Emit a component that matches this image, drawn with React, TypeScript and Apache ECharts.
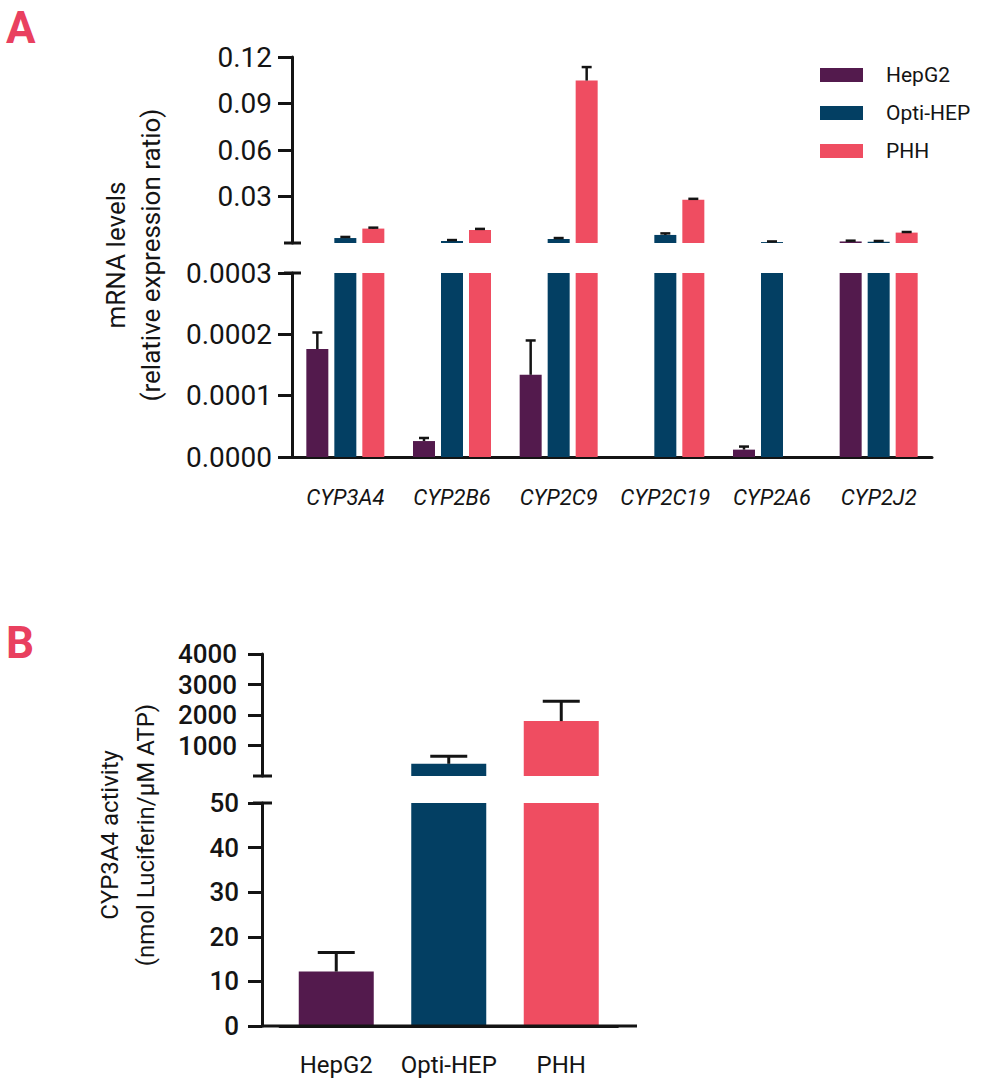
import React, { useEffect, useRef } from 'react';
import * as echarts from 'echarts';

const FONT = 'Roboto, "Noto Sans", sans-serif';
const INK = '#141414';

// ---------- Panel A data ----------
const genes = ['CYP3A4', 'CYP2B6', 'CYP2C9', 'CYP2C19', 'CYP2A6', 'CYP2J2'];
const groups = ['HepG2', 'Opti-HEP', 'PHH'];
const groupColors = ['#531A4D', '#033F63', '#EF4D61'];

const hepg2Mrna = [0.000176, 0.000026, 0.000134, 0, 0.000012, 0.001];
const hepg2MrnaErr = [0.000027, 0.000005, 0.000056, 0, 0.000005, 0.0005];
const optiMrna = [0.0032, 0.0013, 0.0026, 0.0052, 0.0006, 0.0008];
const optiMrnaErr = [0.0007, 0.0006, 0.0006, 0.001, 0.0004, 0.0005];
const phhMrna = [0.0093, 0.0084, 0.1048, 0.0279, 0, 0.0067];
const phhMrnaErr = [0.0006, 0.0007, 0.0087, 0.0006, 0, 0.0004];

const mrnaUpperMax = 0.12;
const mrnaUpperStep = 0.03;
const mrnaUpperTicks = [0.03, 0.06, 0.09, 0.12];
const mrnaLowerMax = 0.0003;
const mrnaLowerStep = 0.0001;
const mrnaLowerTicks = [0, 0.0001, 0.0002, 0.0003];

// ---------- Panel B data ----------
const cellLines = ['HepG2', 'Opti-HEP', 'PHH'];
const activity = [12.2, 400, 1800];
const activityErr = [4.3, 250, 650];
const actUpperMax = 4000;
const actUpperStep = 1000;
const actUpperTicks = [1000, 2000, 3000, 4000];
const actLowerMax = 50;
const actLowerStep = 10;
const actLowerTicks = [0, 10, 20, 30, 40, 50];

// ---------- layout ----------
const A_LEFT = 292;
const A_WIDTH = 640;
const A_UP_TOP = 57;
const A_UP_H = 186;
const A_LO_TOP = 273;
const A_LO_H = 184;
const A_BAR_W = 22;
const A_BAR_GAP = 6;

const B_LEFT = 280;
const B_WIDTH = 337.5;
const B_AXIS_OFFSET = 18;
const B_UP_TOP = 654;
const B_UP_H = 122;
const B_LO_TOP = 803;
const B_LO_H = 223;
const B_BAR_W = 75;

const yAxis = (
  gridIndex: number,
  max: number,
  interval: number,
  ticks: number[],
  fmt: (v: number) => string,
  fontSize: number,
  fontWeight: any,
  margin: number,
  offset = 0
) => ({
  type: 'value',
  gridIndex,
  min: 0,
  max,
  interval,
  offset,
  axisLine: { show: true, lineStyle: { color: INK, width: 3 } },
  axisTick: { show: true, length: 14, customValues: ticks, lineStyle: { color: INK, width: 3 } },
  axisLabel: {
    customValues: ticks,
    formatter: fmt,
    fontFamily: FONT,
    fontSize,
    fontWeight,
    color: INK,
    margin,
  },
  splitLine: { show: false },
});

const errorSeries = (
  xAxisIndex: number,
  yAxisIndex: number,
  means: number[],
  errs: number[],
  offset: number,
  capW: number,
  lw: number,
  keep: (m: number) => boolean
) => ({
  type: 'custom',
  xAxisIndex,
  yAxisIndex,
  clip: true,
  silent: true,
  z: 5,
  data: means
    .map((m, i) => [i, m, m + errs[i]])
    .filter((d) => keep(d[1]) && d[2] > d[1]),
  renderItem: (params: any, api: any) => {
    const c = api.value(0);
    const lo = api.coord([c, api.value(1)]);
    const hi = api.coord([c, api.value(2)]);
    const x = lo[0] + offset;
    return {
      type: 'group',
      children: [
        { type: 'line', shape: { x1: x, y1: lo[1], x2: x, y2: hi[1] }, style: { stroke: INK, lineWidth: lw } },
        {
          type: 'line',
          shape: { x1: x - capW / 2, y1: hi[1], x2: x + capW / 2, y2: hi[1] },
          style: { stroke: INK, lineWidth: lw },
        },
      ],
    };
  },
});

export default function App() {
  const ref = useRef<HTMLDivElement>(null);

  useEffect(() => {
    if (!ref.current) return;
    const chart = echarts.init(ref.current, undefined, { renderer: 'svg' });

    const aMeans = [hepg2Mrna, optiMrna, phhMrna];
    const aErrs = [hepg2MrnaErr, optiMrnaErr, phhMrnaErr];
    const series: any[] = [];

    groups.forEach((g, gi) => {
      series.push({
        type: 'bar',
        name: g,
        xAxisIndex: 0,
        yAxisIndex: 0,
        barWidth: A_BAR_W,
        barGap: (A_BAR_GAP / A_BAR_W) * 100 + '%',
        itemStyle: { color: groupColors[gi] },
        data: aMeans[gi].map((v) => (v > mrnaLowerMax ? v : '-')),
      });
    });
    groups.forEach((g, gi) => {
      series.push({
        type: 'bar',
        name: g,
        xAxisIndex: 1,
        yAxisIndex: 1,
        clip: true,
        barWidth: A_BAR_W,
        barGap: (A_BAR_GAP / A_BAR_W) * 100 + '%',
        itemStyle: { color: groupColors[gi] },
        data: aMeans[gi],
      });
    });
    groups.forEach((g, gi) => {
      const off = (gi - 1) * (A_BAR_W + A_BAR_GAP);
      series.push(errorSeries(0, 0, aMeans[gi], aErrs[gi], off, 10, 2.5, (m) => m > mrnaLowerMax));
      series.push(errorSeries(1, 1, aMeans[gi], aErrs[gi], off, 10, 2.5, (m) => m > 0 && m <= mrnaLowerMax));
    });

    // Panel B
    series.push({
      type: 'bar',
      name: 'activity',
      xAxisIndex: 2,
      yAxisIndex: 2,
      barWidth: B_BAR_W,
      data: activity.map((v, i) => ({ value: v > actLowerMax ? v : '-', itemStyle: { color: groupColors[i] } })),
    });
    series.push({
      type: 'bar',
      name: 'activity',
      xAxisIndex: 3,
      yAxisIndex: 3,
      clip: true,
      barWidth: B_BAR_W,
      data: activity.map((v, i) => ({ value: v, itemStyle: { color: groupColors[i] } })),
    });
    series.push(errorSeries(2, 2, activity, activityErr, 0, 37, 3, (m) => m > actLowerMax));
    series.push(errorSeries(3, 3, activity, activityErr, 0, 37, 3, (m) => m > 0 && m <= actLowerMax));

    const aAxisX = A_LEFT;
    const bAxisX = B_LEFT - B_AXIS_OFFSET;
    const capLine = (x1: number, x2: number, y: number) => ({
      type: 'line',
      shape: { x1, y1: y, x2, y2: y },
      style: { stroke: INK, lineWidth: 3 },
      z: 10,
    });

    // legend drawn with graphic rect + text (exact spacing between swatch and label)
    const legendItems: any[] = [];
    groups.forEach((g, gi) => {
      const cy = 75 + gi * 38;
      legendItems.push({
        type: 'rect',
        shape: { x: 820, y: cy - 7, width: 43, height: 14 },
        style: { fill: groupColors[gi] },
      });
      legendItems.push({
        type: 'text',
        x: 886,
        y: cy,
        style: { text: g, fontFamily: FONT, fontSize: 21, fill: INK, verticalAlign: 'middle', align: 'left' },
      });
    });

    chart.setOption({
      animation: false,
      backgroundColor: '#ffffff',
      textStyle: { fontFamily: FONT },
      grid: [
        { left: A_LEFT, top: A_UP_TOP, width: A_WIDTH, height: A_UP_H },
        { left: A_LEFT, top: A_LO_TOP, width: A_WIDTH, height: A_LO_H },
        { left: B_LEFT, top: B_UP_TOP, width: B_WIDTH, height: B_UP_H },
        { left: B_LEFT, top: B_LO_TOP, width: B_WIDTH, height: B_LO_H },
      ],
      xAxis: [
        { type: 'category', gridIndex: 0, data: genes, show: false },
        {
          type: 'category',
          gridIndex: 1,
          data: genes,
          axisLine: { lineStyle: { color: INK, width: 3 } },
          axisTick: { alignWithLabel: true, interval: 0, length: 14, lineStyle: { color: INK, width: 3 } },
          axisLabel: { interval: 0, fontFamily: FONT, fontSize: 22, fontStyle: 'italic', color: INK, margin: 29 },
        },
        { type: 'category', gridIndex: 2, data: cellLines, show: false },
        {
          type: 'category',
          gridIndex: 3,
          data: cellLines,
          axisLine: { lineStyle: { color: INK, width: 3 } },
          axisTick: { alignWithLabel: true, interval: 0, length: 14, lineStyle: { color: INK, width: 3 } },
          axisLabel: { interval: 0, fontFamily: FONT, fontSize: 24, color: INK, margin: 27 },
        },
      ],
      yAxis: [
        yAxis(0, mrnaUpperMax, mrnaUpperStep, mrnaUpperTicks, (v) => String(+v.toFixed(2)), 28, 'normal', 20),
        yAxis(1, mrnaLowerMax, mrnaLowerStep, mrnaLowerTicks, (v) => v.toFixed(4), 28, 'normal', 20),
        yAxis(2, actUpperMax, actUpperStep, actUpperTicks, (v) => String(v), 26, 500, 25, B_AXIS_OFFSET),
        yAxis(3, actLowerMax, actLowerStep, actLowerTicks, (v) => String(v), 26, 500, 23, B_AXIS_OFFSET),
      ],
      graphic: [
        {
          type: 'text',
          x: 6,
          y: 28,
          style: { text: 'A', fontFamily: FONT, fontSize: 44, fontWeight: 'bold', fill: '#E9405F', verticalAlign: 'middle' },
        },
        {
          type: 'text',
          x: 6,
          y: 643,
          style: { text: 'B', fontFamily: FONT, fontSize: 44, fontWeight: 'bold', fill: '#E9405F', verticalAlign: 'middle' },
        },
        {
          type: 'text',
          x: 133,
          y: 255,
          rotation: Math.PI / 2,
          style: {
            text: 'mRNA levels\n(relative expression ratio)',
            fontFamily: FONT,
            fontSize: 26,
            lineHeight: 35,
            fill: INK,
            align: 'center',
            verticalAlign: 'middle',
          },
        },
        {
          type: 'text',
          x: 128,
          y: 835,
          rotation: Math.PI / 2,
          style: {
            text: 'CYP3A4 activity\n(nmol Luciferin/μM ATP)',
            fontFamily: FONT,
            fontSize: 24,
            lineHeight: 36,
            fill: INK,
            align: 'center',
            verticalAlign: 'middle',
          },
        },
        capLine(aAxisX - 8, aAxisX + 9, A_UP_TOP + A_UP_H),
        capLine(aAxisX - 8, aAxisX + 9, A_LO_TOP),
        capLine(bAxisX - 9, bAxisX + 10, B_UP_TOP + B_UP_H),
        capLine(bAxisX - 9, bAxisX + 10, B_LO_TOP),
        capLine(bAxisX, 637, B_LO_TOP + B_LO_H),
        ...legendItems,
      ],
      series,
    });

    return () => chart.dispose();
  }, []);

  return <div ref={ref} style={{ position: 'fixed', left: 0, top: 0, width: 988, height: 1080 }} />;
}
